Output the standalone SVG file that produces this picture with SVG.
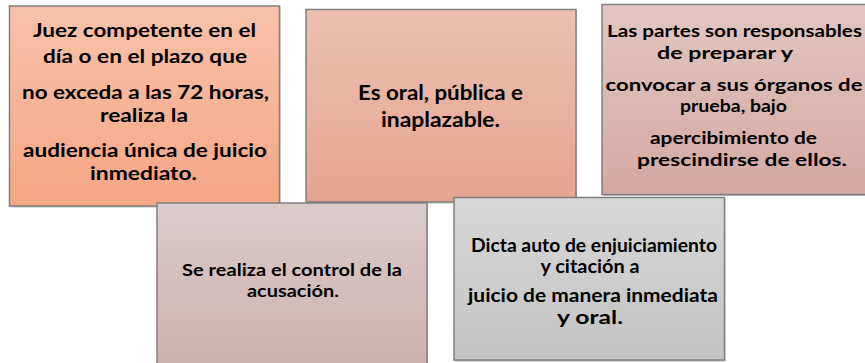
<svg xmlns="http://www.w3.org/2000/svg" width="865" height="363" viewBox="0 0 865 363">
<defs>
<linearGradient id="g1" x1="0" y1="0" x2="0" y2="1"><stop offset="0" stop-color="#f8c2aa"/><stop offset="1" stop-color="#f6a684"/></linearGradient>
<linearGradient id="g2" x1="0" y1="0" x2="0" y2="1"><stop offset="0" stop-color="#ecc0b1"/><stop offset="1" stop-color="#e6a48f"/></linearGradient>
<linearGradient id="g3" x1="0" y1="0" x2="0" y2="1"><stop offset="0" stop-color="#e3c5c1"/><stop offset="1" stop-color="#d4a9a2"/></linearGradient>
<linearGradient id="g4" x1="0" y1="0" x2="0" y2="1"><stop offset="0" stop-color="#dbcccc"/><stop offset="1" stop-color="#cdb0ab"/></linearGradient>
<linearGradient id="g5" x1="0" y1="0" x2="0" y2="1"><stop offset="0" stop-color="#d7d7d7"/><stop offset="1" stop-color="#c3c3c3"/></linearGradient>
</defs>
<style>
.box{stroke:#808080;stroke-width:1.5}
.sh{fill:#6e6e6e;opacity:0.45}
text{font-family:Lato,"Open Sans","Liberation Sans",sans-serif;font-weight:bold;fill:#000;text-anchor:middle}
.t1{font-size:19px}
.t2{font-size:21px}
.t3{font-size:17.5px}
.t4{font-size:17.5px}
.t5{font-size:18px}
</style>
<g id="connectors"></g>
<g id="node1">
<rect class="sh" x="10.5" y="7.5" width="270" height="200"/>
<rect class="box" x="9.5" y="6" width="270" height="200" fill="url(#g1)"/>
<text class="t1" x="144.5" y="37" textLength="223" lengthAdjust="spacingAndGlyphs">Juez competente en el</text>
<text class="t1" x="145" y="63" textLength="204" lengthAdjust="spacingAndGlyphs">día o en el plazo que</text>
<text class="t1" x="145.5" y="99" textLength="247" lengthAdjust="spacingAndGlyphs">no exceda a las 72 horas,</text>
<text class="t1" x="144" y="122" textLength="88" lengthAdjust="spacingAndGlyphs">realiza la</text>
<text class="t1" x="145" y="157" textLength="244" lengthAdjust="spacingAndGlyphs">audiencia única de juicio</text>
<text class="t1" x="143.5" y="180" textLength="107" lengthAdjust="spacingAndGlyphs">inmediato.</text>
</g>
<g id="node2">
<rect class="sh" x="307" y="11" width="270" height="192.5"/>
<rect class="box" x="306" y="9.5" width="270" height="192.5" fill="url(#g2)"/>
<text class="t2" x="440.5" y="100" textLength="165" lengthAdjust="spacingAndGlyphs">Es oral, pública e</text>
<text class="t2" x="440.5" y="127" textLength="119" lengthAdjust="spacingAndGlyphs">inaplazable.</text>
</g>
<g id="node3">
<rect class="sh" x="603" y="6" width="266" height="190"/>
<rect class="box" x="602" y="4.5" width="266" height="190" fill="url(#g3)"/>
<text class="t3" x="734.5" y="37" textLength="255" lengthAdjust="spacingAndGlyphs">Las partes son responsables</text>
<text class="t3" x="725" y="59" textLength="136" lengthAdjust="spacingAndGlyphs">de preparar y</text>
<text class="t3" x="734" y="91" textLength="257" lengthAdjust="spacingAndGlyphs">convocar a sus órganos de</text>
<text class="t3" x="733.5" y="112" textLength="107" lengthAdjust="spacingAndGlyphs">prueba, bajo</text>
<text class="t3" x="733.5" y="144" textLength="167" lengthAdjust="spacingAndGlyphs">apercibimiento de</text>
<text class="t3" x="742" y="166" textLength="210" lengthAdjust="spacingAndGlyphs">prescindirse de ellos.</text>
</g>
<g id="node4">
<rect class="sh" x="158" y="204.5" width="270" height="165"/>
<rect class="box" x="157" y="203" width="270" height="165" fill="url(#g4)"/>
<text class="t4" x="292" y="276" textLength="220" lengthAdjust="spacingAndGlyphs">Se realiza el control de la</text>
<text class="t4" x="293" y="297" textLength="92" lengthAdjust="spacingAndGlyphs">acusación.</text>
</g>
<g id="node5">
<rect class="sh" x="455" y="199" width="270.5" height="162.5"/>
<rect class="box" x="454" y="197.5" width="270.5" height="162.5" fill="url(#g5)"/>
<text class="t5" x="594" y="252" textLength="246" lengthAdjust="spacingAndGlyphs">Dicta auto de enjuiciamiento</text>
<text class="t5" x="590" y="273" textLength="99" lengthAdjust="spacingAndGlyphs">y citación a</text>
<text class="t5" x="593" y="302" textLength="250" lengthAdjust="spacingAndGlyphs">juicio de manera inmediata</text>
<text class="t5" x="590" y="324" textLength="66" lengthAdjust="spacingAndGlyphs">y oral.</text>
</g>
</svg>
